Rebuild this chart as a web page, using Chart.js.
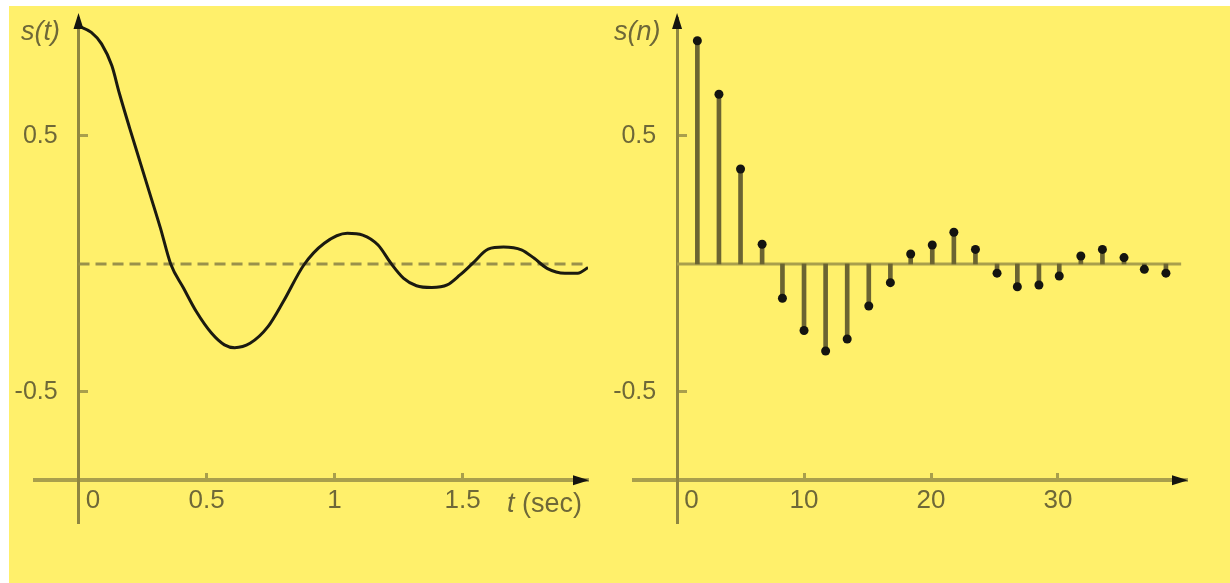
<!DOCTYPE html>
<html>
<head>
<meta charset="utf-8">
<title>s(t) and s(n)</title>
<script src="https://cdn.jsdelivr.net/npm/chart.js@4.4.0/dist/chart.umd.min.js"></script>
<style>
    html, body { margin: 0; padding: 0; background: #fff; }
    #page { position: relative; width: 1230px; height: 583px; overflow: hidden; }
    #paper { position: absolute; left: 9px; top: 6px; right: 0; bottom: 0; background: #fff06b; }
    canvas { position: absolute; top: 0; }
    #left_chart { left: 0; }
    #right_chart { left: 605px; }
    .lbl { position: absolute; font-family: "Liberation Sans", Arial, sans-serif; font-size: 27px; line-height: 27px; color: #6e6838; white-space: nowrap; }
</style>
</head>
<body>
<div id="page">
    <div id="paper"></div>
    <canvas id="left_chart" width="615" height="583"></canvas>
    <canvas id="right_chart" width="625" height="583"></canvas>
    <div class="lbl" style="left:21px; top:18px; font-style:italic;">s(t)</div>
    <div class="lbl" style="left:614px; top:18px; font-style:italic;">s(n)</div>
    <div class="lbl" style="left:507px; top:490px;"><i>t</i> (sec)</div>
</div>
<script>
// continuous signal s(t)
var tValues = [0, 0.05, 0.09, 0.13, 0.16, 0.2, 0.24, 0.28, 0.32, 0.36, 0.41, 0.46, 0.52, 0.57, 0.61,
    0.67, 0.74, 0.8, 0.88, 0.96, 1.05, 1.11, 1.17, 1.22, 1.27, 1.32, 1.38, 1.44, 1.49, 1.54,
    1.6, 1.66, 1.73, 1.78, 1.83, 1.9, 1.95, 1.99];
var sValues = [0.93, 0.905, 0.86, 0.775, 0.665, 0.53, 0.40, 0.27, 0.14, 0.0, -0.094, -0.186, -0.271, -0.316, -0.327,
    -0.31, -0.245, -0.147, -0.004, 0.081, 0.12, 0.113, 0.074, 0.003, -0.056, -0.085, -0.092, -0.082, -0.043, 0.003,
    0.058, 0.066, 0.055, 0.022, -0.017, -0.036, -0.036, -0.014];

// sampled signal s(n)
var nValues = [1.6, 3.3, 5.0, 6.7, 8.3, 10.0, 11.7, 13.4, 15.1, 16.8, 18.4, 20.1,
    21.8, 23.5, 25.2, 26.8, 28.5, 30.1, 31.8, 33.5, 35.2, 36.8, 38.5];
var snValues = [0.872, 0.663, 0.371, 0.077, -0.134, -0.26, -0.34, -0.293, -0.164, -0.073, 0.039, 0.074,
    0.124, 0.057, -0.036, -0.089, -0.082, -0.047, 0.031, 0.057, 0.025, -0.021, -0.036];

// tick labels
var tTicks = [0, 0.5, 1, 1.5];
var nTicks = [0, 10, 20, 30];
var yTicks = [-0.5, 0.5];

var axisColor = '#a99f4c';
var yAxisColor = '#8f8641';
var labelColor = '#6e6838';
var xTickFont = { family: 'Liberation Sans', size: 26 };
var yTickFont = { family: 'Liberation Sans', size: 25 };
var xAxisAt = -0.845;
var baseEnd = 39.7;

var arrowPlugin = {
    id: 'arrows',
    afterDatasetsDraw: function (chart) {
        var ctx = chart.ctx, area = chart.chartArea;
        var x0 = chart.scales.x.getPixelForValue(0);
        var yx = chart.scales.y.getPixelForValue(xAxisAt);
        ctx.save();
        ctx.fillStyle = '#141410';
        ctx.beginPath();
        ctx.moveTo(area.right + 1, yx);
        ctx.lineTo(area.right - 15, yx - 5);
        ctx.lineTo(area.right - 15, yx + 5);
        ctx.fill();
        ctx.beginPath();
        ctx.moveTo(x0, area.top - 5);
        ctx.lineTo(x0 - 5, area.top + 11);
        ctx.lineTo(x0 + 5, area.top + 11);
        ctx.fill();
        ctx.restore();
    }
};

function getScales(xMin, xMax, xTicks) {
    return {
        x: {
            type: 'linear',
            min: xMin,
            max: xMax,
            offset: false,
            position: { y: xAxisAt },
            afterFit: function (s) { s.height = 0; },
            afterBuildTicks: function (s) {
                s.ticks = xTicks.map(function (v) { return { value: v }; });
            },
            grid: {
                offset: false,
                drawOnChartArea: false,
                tickLength: -9,
                tickWidth: 3,
                tickColor: function (c) { return c.tick && c.tick.value === 0 ? 'rgba(0,0,0,0)' : axisColor; }
            },
            border: { color: axisColor, width: 4 },
            ticks: {
                padding: 14,
                maxRotation: 0,
                font: xTickFont,
                color: labelColor,
                callback: function (v) { return v === 0 ? '    0' : String(v); }
            }
        },
        y: {
            type: 'linear',
            min: -1.012,
            max: 0.961,
            position: { x: 0 },
            afterFit: function (s) { s.width = 0; },
            afterBuildTicks: function (s) {
                s.ticks = yTicks.map(function (v) { return { value: v }; });
            },
            grid: {
                drawOnChartArea: false,
                tickLength: -11,
                tickWidth: 3,
                tickColor: axisColor
            },
            border: { color: yAxisColor, width: 3 },
            ticks: {
                font: yTickFont,
                color: labelColor,
                callback: function (v) { return v + '   '; }
            }
        }
    };
}

function getChartJs(type) {
    var config = null;

    if (type === 'continuous') {
        config = {
            type: 'line',
            data: {
                datasets: [{
                    label: 's(t)',
                    data: tValues.map(function (t, i) { return { x: t, y: sValues[i] }; }),
                    borderColor: '#1b1a10',
                    borderWidth: 3,
                    pointRadius: 0,
                    cubicInterpolationMode: 'monotone',
                    fill: false,
                    order: 1
                }, {
                    label: 'zero',
                    data: [{ x: tValues[0], y: 0 }, { x: tValues[tValues.length - 1], y: 0 }],
                    borderColor: '#9a914a',
                    borderWidth: 3,
                    borderDash: [11, 6],
                    pointRadius: 0,
                    order: 2
                }]
            },
            options: {
                responsive: false,
                animation: false,
                events: [],
                layout: { padding: { left: 35, right: 27, top: 18, bottom: 60 } },
                scales: getScales(-0.17, 1.99, tTicks),
                plugins: { legend: { display: false }, tooltip: { enabled: false } }
            },
            plugins: [arrowPlugin]
        };
    }
    else if (type === 'sampled') {
        config = {
            type: 'bar',
            data: {
                datasets: [{
                    type: 'line',
                    label: 'dots',
                    data: nValues.map(function (n, i) { return { x: n, y: snValues[i] }; }),
                    showLine: false,
                    pointRadius: 4.5,
                    pointBackgroundColor: '#141410',
                    pointBorderWidth: 0,
                    order: 1
                }, {
                    label: 'stems',
                    data: nValues.map(function (n, i) { return { x: n, y: snValues[i] }; }),
                    backgroundColor: '#6b6432',
                    barThickness: 4,
                    order: 2
                }, {
                    type: 'line',
                    label: 'base',
                    data: [{ x: 0, y: 0 }, { x: baseEnd, y: 0 }],
                    borderColor: axisColor,
                    borderWidth: 3,
                    pointRadius: 0,
                    order: 3
                }]
            },
            options: {
                responsive: false,
                animation: false,
                events: [],
                layout: { padding: { left: 29, right: 43, top: 18, bottom: 60 } },
                scales: getScales(-3.39, 40.16, nTicks),
                plugins: { legend: { display: false }, tooltip: { enabled: false } }
            },
            plugins: [arrowPlugin]
        };
    }
    return config;
}

new Chart(document.getElementById('left_chart').getContext('2d'), getChartJs('continuous'));
new Chart(document.getElementById('right_chart').getContext('2d'), getChartJs('sampled'));
</script>
</body>
</html>
